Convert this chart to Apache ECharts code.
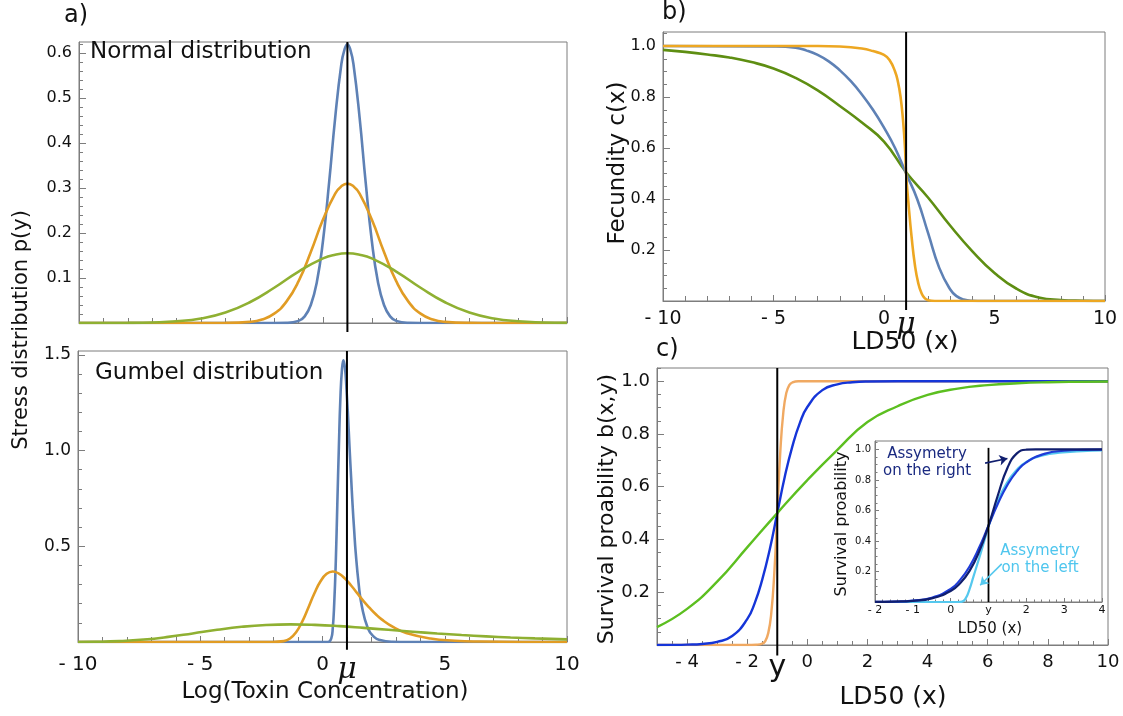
<!DOCTYPE html>
<html>
<head>
<meta charset="utf-8">
<script src="https://cdn.jsdelivr.net/npm/echarts@6/dist/echarts.min.js"></script>
<style>
  html, body { margin: 0; padding: 0; background: #fff; }
  #chart { width: 1123px; height: 716px; }
</style>
</head>
<body>
<div id="chart"></div>
<script>
// ---------------- data ----------------
const MU = 1;          // mean of the log toxin concentration
const Y_STRESS = -1;   // stress level y used for the survival curves

// a) stress distributions p(y), normal case  [log concentration, density]
const normalNarrow = [[-10,0],[-2,0],[-1.5,0.0003],[-1,0.0047],[-0.75,0.0147],[-0.5,0.040],[-0.25,0.092],[0,0.183],[0.25,0.312],[0.5,0.457],[0.75,0.575],[0.875,0.607],[1,0.62],[1.125,0.607],[1.25,0.575],[1.5,0.457],[1.75,0.312],[2,0.183],[2.25,0.092],[2.5,0.040],[2.75,0.0147],[3,0.0047],[3.5,0.0003],[4,0],[10,0]];
const normalMid = [[-10,0],[-5,0],[-4,0.0002],[-3,0.0025],[-2.5,0.0078],[-2,0.0208],[-1.5,0.0475],[-1,0.093],[-0.5,0.158],[0,0.230],[0.5,0.288],[0.75,0.304],[1,0.31],[1.25,0.304],[1.5,0.288],[2,0.230],[2.5,0.158],[3,0.093],[3.5,0.0475],[4,0.0208],[4.5,0.0078],[5,0.0025],[6,0.0002],[7,0],[10,0]];
const normalWide = [[-10,0],[-9,0.0001],[-8,0.0003],[-7,0.0012],[-6,0.0038],[-5,0.0102],[-4,0.0234],[-3,0.0462],[-2,0.0784],[-1,0.1145],[0,0.1437],[0.5,0.152],[1,0.155],[1.5,0.152],[2,0.1437],[3,0.1145],[4,0.0784],[5,0.0462],[6,0.0234],[7,0.0102],[8,0.0038],[9,0.0012],[10,0.0003]];

// a) stress distributions p(y), Gumbel case
const gumbelNarrow = [[-10,0],[0,0],[0.23,0.0003],[0.356,0.018],[0.42,0.073],[0.48,0.203],[0.545,0.426],[0.605,0.716],[0.67,1.02],[0.73,1.268],[0.795,1.422],[0.856,1.472],[0.92,1.43],[0.98,1.324],[1.045,1.178],[1.105,1.018],[1.17,0.86],[1.23,0.716],[1.295,0.584],[1.355,0.472],[1.48,0.302],[1.605,0.19],[1.855,0.072],[2.105,0.027],[2.355,0.01],[2.855,0.0012],[3.5,0],[10,0]];
const gumbelMid = [[-10,0],[-2.5,0],[-2.08,0.0001],[-1.58,0.0046],[-1.33,0.018],[-1.08,0.051],[-0.83,0.1065],[-0.58,0.179],[-0.33,0.255],[-0.08,0.317],[0.17,0.356],[0.42,0.368],[0.67,0.357],[0.92,0.331],[1.17,0.295],[1.42,0.255],[1.67,0.215],[1.92,0.179],[2.17,0.146],[2.42,0.118],[2.92,0.076],[3.42,0.047],[4.42,0.018],[5.42,0.0067],[6.42,0.0025],[8.42,0.0003],[10,0.0001]];
const gumbelWide = [[-10,0.0003],[-9.31,0.0011],[-8.31,0.0046],[-7.31,0.0127],[-6.31,0.0266],[-5.31,0.0448],[-4.31,0.0637],[-3.31,0.0793],[-2.31,0.0889],[-1.31,0.092],[-0.31,0.0894],[0.69,0.0828],[1.69,0.0736],[2.69,0.0637],[3.69,0.0538],[4.69,0.0446],[5.69,0.0365],[6.69,0.0296],[7.69,0.0237],[8.69,0.0189],[10,0.0139]];

// b) fecundity c(x) against LD50 x
const fecundityOrange = [[-10,1],[-3,1],[-2,0.998],[-1,0.99],[-0.5,0.98],[0,0.965],[0.25,0.945],[0.5,0.9],[0.63,0.86],[0.75,0.8],[0.86,0.71],[0.95,0.6],[1,0.5],[1.1,0.39],[1.25,0.25],[1.4,0.14],[1.55,0.07],[1.7,0.03],[1.85,0.01],[2,0.003],[2.3,0],[10,0]];
const fecundityBlue = [[-10,1],[-5,0.998],[-4,0.993],[-3.5,0.982],[-3,0.965],[-2.5,0.94],[-2,0.905],[-1.5,0.862],[-1,0.81],[-0.5,0.75],[0,0.68],[0.5,0.6],[1,0.5],[1.5,0.4],[2,0.265],[2.5,0.13],[3,0.045],[3.3,0.018],[3.6,0.006],[4,0.001],[4.5,0],[10,0]];
const fecundityGreen = [[-10,0.985],[-9,0.977],[-8,0.967],[-7,0.955],[-6,0.937],[-5,0.912],[-4,0.875],[-3,0.826],[-2,0.765],[-1,0.7],[0,0.625],[1,0.505],[2,0.405],[3,0.295],[4,0.195],[5,0.11],[6,0.048],[7,0.014],[8,0.004],[9,0.001],[10,0]];

// c) survival probability b(x,y) against LD50 x
const survivalOrange = [[-5,0],[-2,0],[-1.7,0.001],[-1.5,0.005],[-1.4,0.015],[-1.3,0.045],[-1.2,0.12],[-1.1,0.27],[-1,0.5],[-0.9,0.73],[-0.8,0.88],[-0.7,0.955],[-0.6,0.985],[-0.5,0.995],[-0.3,1],[10,1]];
const survivalBlue = [[-5,0.0002],[-4.5,0.0004],[-4,0.0013],[-3.5,0.004],[-3,0.012],[-2.5,0.034],[-2,0.098],[-1.75,0.159],[-1.5,0.248],[-1.25,0.362],[-1,0.5],[-0.75,0.638],[-0.5,0.752],[-0.25,0.841],[0,0.902],[0.5,0.966],[1,0.988],[1.5,0.996],[2,0.999],[3,1],[10,1]];
const survivalGreen = [[-5,0.068],[-4,0.137],[-3,0.24],[-2,0.37],[-1,0.5],[0,0.625],[1,0.74],[2,0.845],[3,0.905],[4,0.948],[5,0.972],[6,0.985],[7,0.992],[8,0.996],[9,0.998],[10,0.999]];

// inset: symmetric and asymmetric survival curves
const insetRight = [[-2,0.001],[-1.5,0.003],[-1,0.008],[-0.5,0.024],[0,0.072],[0.25,0.123],[0.5,0.204],[0.75,0.328],[1,0.5],[1.25,0.701],[1.5,0.878],[1.75,0.974],[2,0.998],[2.25,1],[4,1]];
const insetSymmetric = [[-2,0.0007],[-1.5,0.002],[-1,0.0085],[-0.5,0.028],[0,0.085],[0.25,0.145],[0.5,0.233],[0.75,0.355],[1,0.5],[1.25,0.645],[1.5,0.767],[1.75,0.856],[2,0.915],[2.5,0.972],[3,0.991],[3.5,0.997],[4,0.999]];
const insetLeft = [[-2,0],[0.2,0],[0.3,0.002],[0.4,0.025],[0.5,0.085],[0.6,0.165],[0.7,0.245],[0.8,0.325],[0.9,0.41],[1,0.495],[1.22,0.648],[1.48,0.778],[1.74,0.864],[2,0.918],[2.43,0.961],[2.96,0.98],[3.48,0.989],[4,0.993]];

// arrows pointing at the asymmetric inset curves [from, to]
const arrowRight = [[0.91, 0.91], [1.5, 0.94]];
const arrowLeft = [[1.35, 0.25], [0.78, 0.11]];

// tick labels
const ticksA_yTop = [0.1, 0.2, 0.3, 0.4, 0.5, 0.6];
const ticksA_yBot = [0.5, 1.0, 1.5];
const ticksA_x = [-10, -5, 0, MU, 5, 10];
const ticksB_y = [0.2, 0.4, 0.6, 0.8, 1.0];
const ticksB_x = [-10, -5, 0, MU, 5, 10];
const ticksC_y = [0.2, 0.4, 0.6, 0.8, 1.0];
const ticksC_x = [-4, -2, Y_STRESS, 0, 2, 4, 6, 8, 10];
const ticksI_y = [0.2, 0.4, 0.6, 0.8, 1.0];
const ticksI_x = [-2, -1, 0, MU, 2, 3, 4];

// ---------------- styling ----------------
const FONT = 'DejaVu Sans';
const FRAME = '#7d7d7d';
const TXT = '#111';
const COL = {
  aBlue: '#5E81B5', aOrange: '#E19C24', aGreen: '#8FB032',
  bBlue: '#5E81B5', bOrange: '#EDA722', bGreen: '#5E8E12',
  cOrange: '#F0A962', cBlue: '#1535D8', cGreen: '#5CBF20',
  iNavy: '#101E6E', iBlue: '#1E3CD8', iCyan: '#55C8EE'
};

function steps(a, b, s) {
  const out = [];
  const n = Math.round((b - a) / s);
  for (let i = 0; i <= n; i++) out.push(+(a + i * s).toFixed(6));
  return out;
}
function signed(v, dec) {
  const s = Math.abs(v).toFixed(dec);
  return v < 0 ? '- ' + s : s;
}

const xAxes = [], yAxes = [];
// each panel axis = one axis with line, labels and major ticks + one bare axis carrying minor ticks
function axisPair(list, gridIndex, pos, c) {
  const base = { type: 'value', gridIndex, position: pos, min: c.min, max: c.max,
    splitLine: { show: false }, axisPointer: { show: false } };
  list.push(Object.assign({}, base, {
    axisLine: { show: true, onZero: false, lineStyle: { color: FRAME, width: 1 } },
    axisTick: { show: true, inside: true, length: c.majorLen, customValues: c.major,
      lineStyle: { color: FRAME, width: 1 } },
    axisLabel: { show: !!c.labels, customValues: c.labels || [], formatter: c.fmt,
      color: TXT, fontFamily: FONT, fontSize: c.size, margin: c.margin, rich: c.rich || {} }
  }));
  const idx = list.length - 1;
  list.push(Object.assign({}, base, {
    axisLine: { show: false, onZero: false },
    axisTick: { show: true, inside: true, length: c.minorLen, customValues: c.minor,
      lineStyle: { color: FRAME, width: 1 } },
    axisLabel: { show: false }
  }));
  return idx;
}

const muRich = { mu: { fontFamily: 'DejaVu Serif', fontStyle: 'italic', fontSize: 30, color: TXT } };
const yRich = { yy: { fontFamily: FONT, fontSize: 30, color: TXT } };

// panel a (top): normal
const ax0 = axisPair(xAxes, 0, 'bottom', { min: -10, max: 10, major: steps(-10, 10, 5), minor: steps(-10, 10, 1), majorLen: 6, minorLen: 5 });
const ay0 = axisPair(yAxes, 0, 'left', { min: 0, max: 0.625, labels: ticksA_yTop, major: steps(0, 0.6, 0.1), minor: steps(0, 0.62, 0.02),
  majorLen: 7, minorLen: 4, size: 16, margin: 7, fmt: v => v.toFixed(1) });
// panel a (bottom): Gumbel
const ax1 = axisPair(xAxes, 1, 'bottom', { min: -10, max: 10, labels: ticksA_x, major: steps(-10, 10, 5), minor: steps(-10, 10, 1),
  majorLen: 6, minorLen: 5, size: 20, margin: 13, rich: muRich, fmt: v => v === MU ? '{mu|μ}' : signed(v, 0) });
const ay1 = axisPair(yAxes, 1, 'left', { min: 0, max: 1.52, labels: ticksA_yBot, major: steps(0, 1.5, 0.5), minor: steps(0, 1.5, 0.1),
  majorLen: 7, minorLen: 4, size: 17, margin: 7, fmt: v => v.toFixed(1) });
// panel b
const ax2 = axisPair(xAxes, 2, 'bottom', { min: -10, max: 10, labels: ticksB_x, major: steps(-10, 10, 5), minor: steps(-10, 10, 1),
  majorLen: 6, minorLen: 5, size: 19, margin: 9, rich: muRich, fmt: v => v === MU ? '{mu|μ}' : signed(v, 0) });
const ay2 = axisPair(yAxes, 2, 'left', { min: 0, max: 1.055, labels: ticksB_y, major: steps(0, 1, 0.2), minor: steps(0, 1.05, 0.05),
  majorLen: 7, minorLen: 4, size: 16, margin: 7, fmt: v => v.toFixed(1) });
// panel c
const ax3 = axisPair(xAxes, 3, 'bottom', { min: -5, max: 10, labels: ticksC_x, major: steps(-4, 10, 2), minor: steps(-5, 10, 0.5),
  majorLen: 6, minorLen: 4, size: 18, margin: 8, rich: yRich, fmt: v => v === Y_STRESS ? '{yy|y}' : signed(v, 0) });
const ay3 = axisPair(yAxes, 3, 'left', { min: 0, max: 1.05, labels: ticksC_y, major: steps(0, 1, 0.2), minor: steps(0, 1.05, 0.05),
  majorLen: 7, minorLen: 4, size: 18, margin: 7, fmt: v => v.toFixed(1) });
// inset
const ax4 = axisPair(xAxes, 4, 'bottom', { min: -2, max: 4, labels: ticksI_x, major: steps(-2, 4, 1), minor: steps(-2, 4, 0.2),
  majorLen: 4, minorLen: 2.5, size: 11, margin: 3, fmt: v => v === MU ? 'y' : signed(v, 0) });
const ay4 = axisPair(yAxes, 4, 'left', { min: 0, max: 1.055, labels: ticksI_y, major: steps(0, 1, 0.2), minor: steps(0, 1.05, 0.05),
  majorLen: 4, minorLen: 2.5, size: 10, margin: 4, fmt: v => v.toFixed(1) });

function curve(data, color, xi, yi, width) {
  return { type: 'line', data, xAxisIndex: xi, yAxisIndex: yi, smooth: 0.5, showSymbol: false, symbol: 'none',
    lineStyle: { color, width: width || 2.6 }, z: 3, silent: true };
}
function vline(x, y0, y1, xi, yi, width) {
  return { type: 'line', data: [[x, y0], [x, y1]], xAxisIndex: xi, yAxisIndex: yi, clip: false, showSymbol: false,
    symbol: 'none', lineStyle: { color: '#000', width: width || 2 }, z: 6, silent: true };
}
function arrow(coords, color, xi, yi) {
  return { type: 'lines', coordinateSystem: 'cartesian2d', xAxisIndex: xi, yAxisIndex: yi, polyline: false,
    symbol: ['none', 'arrow'], symbolSize: 8, data: [{ coords }], lineStyle: { color, width: 1.6, opacity: 1, curveness: 0 }, z: 7, silent: true };
}

const series = [
  curve(normalNarrow, COL.aBlue, ax0, ay0),
  curve(normalMid, COL.aOrange, ax0, ay0),
  curve(normalWide, COL.aGreen, ax0, ay0),
  vline(MU, -0.02, 0.625, ax0, ay0),
  curve(gumbelNarrow, COL.aBlue, ax1, ay1),
  curve(gumbelMid, COL.aOrange, ax1, ay1),
  curve(gumbelWide, COL.aGreen, ax1, ay1),
  vline(MU, -0.04, 1.52, ax1, ay1),
  curve(fecundityGreen, COL.bGreen, ax2, ay2),
  curve(fecundityBlue, COL.bBlue, ax2, ay2),
  curve(fecundityOrange, COL.bOrange, ax2, ay2),
  vline(MU, -0.035, 1.055, ax2, ay2),
  curve(survivalOrange, COL.cOrange, ax3, ay3, 2.4),
  curve(survivalBlue, COL.cBlue, ax3, ay3, 2.4),
  curve(survivalGreen, COL.cGreen, ax3, ay3, 2.4),
  vline(Y_STRESS, -0.04, 1.05, ax3, ay3),
  curve(insetLeft, COL.iCyan, ax4, ay4, 2.2),
  curve(insetSymmetric, COL.iBlue, ax4, ay4, 2.2),
  curve(insetRight, COL.iNavy, ax4, ay4, 2.2),
  vline(MU, 0, 1.01, ax4, ay4, 1.8),
  arrow(arrowRight, COL.iNavy, ax4, ay4),
  arrow(arrowLeft, COL.iCyan, ax4, ay4)
];

function txt(text, x, y, size, opts) {
  opts = opts || {};
  return { type: 'text', x, y, rotation: opts.rot || 0, z: 10, silent: true,
    style: { text, fill: opts.color || TXT, font: size + 'px "' + FONT + '"',
      align: opts.align || 'left', verticalAlign: opts.valign || 'top', lineHeight: opts.lh } };
}

const frame = { show: true, borderColor: FRAME, borderWidth: 1, backgroundColor: 'transparent' };
const option = {
  animation: false,
  grid: [
    Object.assign({ left: 79, top: 42, width: 488, height: 281 }, frame),
    Object.assign({ left: 78, top: 351, width: 489, height: 291 }, frame),
    Object.assign({ left: 663, top: 32, width: 442, height: 269 }, frame),
    Object.assign({ left: 657, top: 368, width: 451, height: 277 }, frame),
    Object.assign({ left: 875, top: 441, width: 227, height: 161 }, frame, { backgroundColor: '#fff' })
  ],
  xAxis: xAxes,
  yAxis: yAxes,
  series,
  graphic: [
    txt('a)', 64, 4, 24),
    txt('b)', 662, 1, 24),
    txt('c)', 656, 338, 24),
    txt('Normal distribution', 90, 41, 23),
    txt('Gumbel distribution', 95, 362, 23),
    txt('Stress distribution p(y)', 22, 330, 21, { rot: Math.PI / 2, align: 'center', valign: 'middle' }),
    txt('Log(Toxin Concentration)', 325, 692, 23, { align: 'center', valign: 'middle' }),
    txt('Fecundity c(x)', 618, 163, 23, { rot: Math.PI / 2, align: 'center', valign: 'middle' }),
    txt('LD50 (x)', 905, 342, 25, { align: 'center', valign: 'middle' }),
    txt('Survival proability b(x,y)', 607, 509, 22, { rot: Math.PI / 2, align: 'center', valign: 'middle' }),
    txt('LD50 (x)', 893, 697, 25, { align: 'center', valign: 'middle' }),
    txt('Survival proability', 842, 524, 16, { rot: Math.PI / 2, align: 'center', valign: 'middle' }),
    txt('LD50 (x)', 990, 629, 15, { align: 'center', valign: 'middle' }),
    txt('Assymetry\non the right', 927, 463, 15, { align: 'center', valign: 'middle', color: '#1A2A80', lh: 17 }),
    txt('Assymetry\non the left', 1040, 560, 15, { align: 'center', valign: 'middle', color: '#4FC6EE', lh: 17 })
  ]
};

const chart = echarts.init(document.getElementById('chart'), null, { renderer: 'canvas' });
chart.setOption(option);
</script>
</body>
</html>
